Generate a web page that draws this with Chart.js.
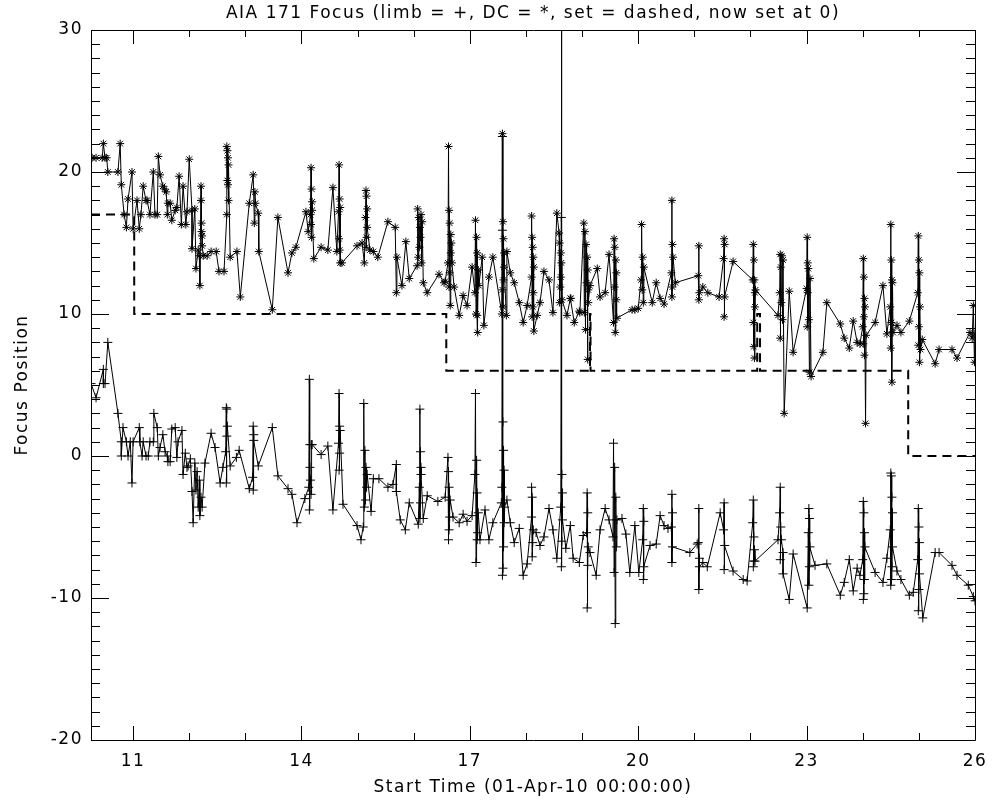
<!DOCTYPE html>
<html>
<head>
<meta charset="utf-8">
<title>AIA 171 Focus</title>
<script src="https://cdn.jsdelivr.net/npm/chart.js@4.4.1/dist/chart.umd.min.js"></script>
<style>
  html, body { margin: 0; padding: 0; background: #fff; }
  #wrap { width: 1000px; height: 800px; }
</style>
</head>
<body>
<div id="wrap"><canvas id="chart" width="1000" height="800"></canvas></div>
<script>
// tick positions
const X_TICKS = [11, 14, 17, 20, 23, 26];
const X_MINOR = [11, 12, 13, 14, 15, 16, 17, 18, 19, 20, 21, 22, 23, 24, 25, 26];
const Y_TICKS = [-20, -10, 0, 10, 20, 30];

// DC focus (*) : [day, position]
const dcPoints = [
  [10.27,21],[10.34,21],[10.45,21],[10.47,22],[10.50,21],[10.53,21],[10.55,20],[10.73,20],[10.77,22],[10.79,19.1],
  [10.84,17],[10.88,16.1],[10.91,18.1],[10.98,20],[11.00,16],[11.07,18],[11.11,16],[11.14,17],[11.18,19],[11.23,18],
  [11.25,18],[11.30,17],[11.36,20],[11.39,17],[11.43,17],[11.45,21.1],[11.48,19.8],[11.53,19],[11.56,18.8],[11.59,18.6],
  [11.61,17],[11.62,17.8],[11.66,17.8],[11.69,16.6],[11.75,17.3],[11.78,17.5],[11.82,19.7],[11.86,16.3],[11.89,19],[11.94,16.3],
  [11.96,17.2],[12.00,20.9],[12.05,17.3],[12.05,14.6],[12.10,17.4],[12.12,13.2],[12.16,14.5],[12.18,14.1],[12.19,12.0],[12.21,19.0],
  [12.21,18.0],[12.22,16.4],[12.22,15.8],[12.23,15.5],[12.23,14.8],[12.25,14.1],[12.32,14.1],[12.39,14.4],[12.48,14.4],[12.53,13.0],
  [12.62,13.0],[12.67,17.0],[12.67,21.8],[12.68,19.4],[12.68,21.5],[12.69,19.1],[12.69,21.0],[12.70,18.0],[12.70,20.5],[12.73,14.0],
  [12.85,14.4],[12.91,11.2],[13.07,17.8],[13.14,19.8],[13.16,16.4],[13.17,18.6],[13.18,17.8],[13.23,17.1],[13.24,14.4],[13.48,10.3],
  [13.58,16.8],[13.76,12.9],[13.83,14.3],[13.90,14.7],[14.08,17.2],[14.12,15.8],
  [14.16,17.0],[14.17,20.3],[14.17,16.3],[14.18,18.8],[14.18,15.4],[14.19,17.9],[14.19,17.3],
  [14.22,13.9],[14.35,14.7],[14.47,14.5],[14.56,18.9],[14.63,14.4],
  [14.66,17.2],[14.67,20.5],[14.67,15.3],[14.68,18.1],[14.68,14.5],[14.69,17.5],[14.69,13.6],
  [14.72,13.6],[14.99,14.8],[15.08,15.0],[15.12,13.6],
  [15.14,16.8],[15.15,18.7],[15.15,14.7],[15.16,18.3],[15.16,15.4],[15.17,17.4],[15.17,16.1],
  [15.22,14.5],[15.28,14.4],[15.36,14.0],[15.54,16.5],[15.67,16.1],[15.69,11.5],[15.70,14.0],[15.79,12.0],[15.86,15.1],[15.92,12.5],
  [16.06,13.4],[16.07,17.4],[16.08,14.0],[16.09,16.8],[16.10,14.7],[16.11,16.1],[16.12,15.4],[16.13,17.0],[16.14,13.6],[16.15,16.5],
  [16.17,12.2],[16.24,11.5],[16.45,12.8],[16.54,12.2],[16.56,12.3],
  [16.61,13.6],[16.62,21.8],[16.63,11.9],[16.63,17.3],[16.64,12.9],[16.64,16.4],[16.65,10.6],[16.66,15.6],[16.66,14.3],[16.67,15.0],[16.68,13.6],
  [16.72,11.9],[16.81,9.9],[16.88,11.3],[16.95,10.6],[17.04,13.3],
  [17.09,11.5],[17.10,16.6],[17.11,10.0],[17.12,15.4],[17.13,9.9],[17.13,14.3],[17.14,8.7],[17.15,13.1],[17.16,12.0],
  [17.22,14.0],[17.25,9.2],[17.34,12.6],[17.41,14.0],
  [17.57,10.0],[17.58,22.7],[17.58,11.7],[17.59,16.5],[17.59,10.5],[17.60,15.3],[17.60,12.4],[17.61,14.3],[17.61,13.3],
  [17.65,9.9],[17.66,14.4],[17.72,12.9],[17.79,12.2],[17.88,10.8],[17.95,9.4],[18.02,10.6],
  [18.10,12.6],[18.10,16.9],[18.11,9.8],[18.11,15.4],[18.12,10.5],[18.12,14.7],[18.13,11.5],[18.13,14.0],[18.14,13.3],[18.14,8.8],
  [18.20,9.9],[18.25,10.8],[18.32,13.0],[18.41,12.4],[18.48,10.1],[18.55,17.1],
  [18.59,15.7],[18.60,10.8],[18.60,15.0],[18.61,11.9],[18.62,14.3],[18.62,12.6],[18.63,13.6],[18.64,11.0],
  [18.73,9.9],[18.79,11.1],[18.80,11.1],[18.86,9.4],[18.95,10.2],[18.96,10.1],
  [19.03,16.4],[19.04,10.1],[19.05,15.8],[19.06,8.9],[19.07,14.9],[19.08,12.2],[19.09,14.0],[19.10,6.8],[19.10,13.1],[19.11,11.7],[19.11,10.8],
  [19.14,12.0],[19.27,13.2],[19.32,11.2],[19.41,11.5],[19.48,14.2],
  [19.56,9.4],[19.57,15.3],[19.58,11.9],[19.58,14.7],[19.59,8.7],[19.60,13.8],[19.61,11.0],[19.61,12.9],[19.62,9.7],
  [19.89,10.3],[19.94,10.3],[20.00,10.4],
  [20.05,12.4],[20.06,16.3],[20.07,11.7],[20.08,14.0],[20.09,10.8],[20.10,13.3],
  [20.25,10.8],[20.32,12.2],[20.39,11.1],[20.46,10.7],
  [20.59,12.9],[20.60,18.0],[20.60,11.2],[20.61,14.9],[20.61,11.9],[20.62,14.0],
  [20.66,12.2],
  [21.07,12.7],[21.08,14.8],[21.08,11.0],[21.09,11.5],
  [21.15,11.9],[21.24,11.5],[21.44,11.2],
  [21.52,13.9],[21.53,15.3],[21.53,9.8],[21.54,14.9],[21.54,11.2],
  [21.69,13.7],
  [22.04,12.4],[22.05,14.9],[22.05,9.4],[22.06,13.8],[22.06,7.7],[22.07,12.4],[22.07,6.9],[22.08,11.5],[22.08,10.5],[22.09,11.7],
  [22.49,9.9],
  [22.52,11.5],[22.53,14.2],[22.53,8.3],[22.54,13.3],[22.55,10.8],[22.56,14.1],[22.57,9.6],[22.58,13.8],[22.60,3.0],
  [22.69,11.6],[22.76,7.3],
  [23.00,11.8],[23.01,15.4],[23.01,9.1],[23.02,13.6],[23.02,11.5],[23.03,13.2],[23.04,9.6],[23.05,5.9],[23.06,12.5],[23.08,5.6],
  [23.29,7.3],[23.36,10.8],[23.60,9.3],[23.67,8.3],[23.76,7.6],[23.83,9.5],[23.90,8.0],[23.95,7.9],
  [24.00,9.1],[24.01,13.9],[24.01,7.9],[24.02,12.6],[24.02,9.8],[24.03,11.1],[24.03,7.1],[24.04,10.5],[24.05,2.3],[24.06,8.5],
  [24.22,9.4],[24.36,12.0],[24.43,8.6],
  [24.49,10.5],[24.50,16.3],[24.50,7.6],[24.51,13.8],[24.51,9.4],[24.52,12.4],[24.52,5.2],[24.53,12.2],[24.54,8.7],
  [24.61,9.2],[24.68,8.7],[24.83,9.5],
  [24.98,11.5],[24.99,15.5],[24.99,7.8],[25.00,13.8],[25.00,9.1],[25.01,12.9],[25.01,6.6],[25.02,10.5],[25.03,7.5],
  [25.06,8.2],[25.29,6.5],[25.36,7.5],[25.59,7.5],[25.68,6.9],[25.91,8.7],[25.95,8.3],[25.97,10.6],[25.99,6.6],[26.00,8.6]
];

// limb focus (+) : [day, position]
const limbPoints = [
  [10.25,5.1],[10.34,4.1],[10.47,6.1],[10.47,5.1],[10.50,5.1],[10.55,8.0],[10.73,3.0],[10.79,1.0],[10.79,0],[10.82,2.0],
  [10.88,1.0],[10.91,0],[10.95,1.0],[10.98,-1.9],[11.00,1.0],[11.11,2.0],[11.12,1.0],[11.16,0],[11.18,1.0],[11.23,0],
  [11.27,0],[11.30,1.0],[11.36,1.0],[11.37,3.0],[11.43,2.0],[11.45,0],[11.48,0.6],[11.53,1.5],[11.57,0.3],[11.61,0],
  [11.62,-0.4],[11.66,-0.4],[11.69,1.9],[11.75,2.0],[11.78,-0.1],[11.80,1.0],[11.87,1.8],[11.89,-1.3],[11.93,0.2],[11.96,-0.8],
  [11.98,-0.7],[12.02,-0.2],[12.05,-2.5],[12.07,-4.7],
  [12.10,-0.5],[12.12,-2.4],[12.14,-1.1],[12.16,-3.6],[12.18,-1.7],[12.19,-4.2],[12.21,-2.9],[12.23,-3.6],
  [12.28,-0.5],[12.39,1.6],[12.46,0.6],[12.55,-1.9],[12.60,-0.8],
  [12.65,0.3],[12.66,3.4],[12.66,-1.9],[12.67,3.3],[12.67,1.4],[12.68,2.1],
  [12.73,-0.7],[12.84,-0.1],[12.89,0.4],[13.07,-2.3],
  [13.13,-1.5],[13.14,2.1],[13.14,-2.4],[13.15,1.5],[13.15,1.1],
  [13.23,-0.7],[13.48,2.0],[13.58,-1.4],[13.76,-2.3],[13.83,-2.7],[13.92,-4.7],[14.06,-3.0],
  [14.13,-2.2],[14.14,5.4],[14.14,-3.8],[14.15,0.8],[14.15,-0.8],[14.16,-1.7],[14.17,-2.7],[14.18,0.8],
  [14.19,0.8],[14.35,0.1],[14.47,0.7],[14.56,-3.8],
  [14.66,0.9],[14.67,4.4],[14.67,-1.0],[14.68,2.1],[14.68,0.2],[14.69,1.8],
  [14.74,-3.4],[14.99,-4.9],[15.06,-5.9],
  [15.10,-5.0],[15.11,3.7],[15.12,-3.6],[15.13,0.4],[15.14,-3.1],[15.15,-0.8],[15.16,-2.2],[15.17,-1.3],
  [15.24,-3.9],[15.28,-1.6],[15.38,-1.6],[15.54,-2.2],[15.63,-2.0],[15.69,-0.6],[15.69,-2.5],[15.76,-4.5],[15.85,-5.2],[15.92,-3.3],[16.08,-4.8],
  [16.10,-2.2],[16.11,3.3],[16.11,-4.4],[16.12,0.3],[16.12,-3.3],[16.13,-0.8],[16.13,-1.3],
  [16.17,-4.4],[16.24,-2.8],[16.43,-3.2],[16.56,-2.9],
  [16.61,-0.1],[16.62,-5.9],[16.62,-1.1],[16.63,-5.2],[16.63,-2.2],[16.64,-4.3],[16.65,-3.1],
  [16.70,-4.3],[16.81,-4.7],[16.88,-4.1],[16.95,-4.6],[17.04,-4.2],
  [17.09,-1.3],[17.10,4.4],[17.11,-7.5],[17.12,-0.3],[17.13,-5.9],[17.13,-2.6],[17.14,-5.4],[17.15,-4.0],
  [17.18,-5.9],[17.27,-3.8],[17.34,-5.9],[17.41,-4.7],[17.56,-3.3],
  [17.57,-2.2],[17.58,22.5],[17.58,15.9],[17.58,-8.4],[17.59,2.4],[17.59,-7.9],[17.60,0.4],[17.60,-6.4],[17.61,-1.0],[17.61,-4.7],[17.62,-3.6],
  [17.66,-3.1],[17.72,-4.7],[17.79,-6.1],[17.88,-5.1],[17.95,-8.4],[18.02,-7.6],
  [18.10,-4.3],[18.10,-2.2],[18.11,-7.1],[18.11,-2.9],[18.12,-6.1],[18.13,-5.2],
  [18.18,-5.4],[18.25,-6.3],[18.32,-5.7],[18.41,-3.7],[18.48,-5.2],[18.55,-7.2],
  [18.62,-3.6],[18.63,16.8],[18.63,40],[18.63,-7.8],[18.64,-1.3],[18.64,-6.0],[18.65,-2.6],[18.65,-4.5],
  [18.71,-6.5],[18.79,-4.9],[18.84,-7.2],[18.95,-7.5],[19.02,-5.6],
  [19.08,-5.4],[19.09,-2.6],[19.09,-10.7],[19.10,-4.0],[19.10,-7.7],[19.11,-6.4],
  [19.14,-6.8],[19.25,-8.4],[19.32,-5.2],[19.41,-3.7],[19.48,-4.5],
  [19.55,-5.7],[19.56,0.9],[19.57,-8.2],[19.58,-0.8],[19.59,-11.8],[19.60,-2.9],[19.61,-6.4],[19.62,-4.5],
  [19.71,-4.4],[19.78,-5.5],[19.85,-8.2],[19.94,-4.9],[20.01,-8.2],
  [20.08,-5.9],[20.09,-3.7],[20.09,-8.7],[20.10,-4.6],[20.10,-7.8],
  [20.21,-6.3],[20.32,-6.2],[20.39,-4.2],[20.46,-4.9],[20.53,-5.1],
  [20.59,-5.0],[20.60,-2.7],[20.60,-7.5],[20.61,-4.0],[20.61,-6.4],
  [20.92,-6.8],[21.05,-6.2],
  [21.07,-6.1],[21.08,-3.7],[21.08,-9.4],[21.09,-7.2],[21.09,-7.8],
  [21.15,-7.5],[21.23,-7.8],[21.46,-4.0],
  [21.52,-5.2],[21.53,-3.3],[21.53,-8.0],[21.54,-6.3],
  [21.69,-8.1],[21.87,-8.7],[21.94,-8.8],
  [22.04,-4.7],[22.05,-3.1],[22.05,-7.8],[22.06,-5.7],[22.06,-7.4],[22.07,-6.6],[22.08,-7.4],
  [22.49,-5.9],
  [22.52,-4.0],[22.53,-2.2],[22.53,-7.3],[22.54,-5.0],[22.55,-5.9],[22.58,-6.8],[22.58,-8.3],
  [22.69,-10.1],[22.76,-6.9],[23.01,-10.7],
  [23.03,-5.4],[23.04,-3.7],[23.04,-9.1],[23.05,-4.4],[23.05,-7.8],[23.06,-6.4],
  [23.15,-7.7],[23.36,-7.6],[23.60,-9.8],[23.67,-8.9],[23.76,-7.3],[23.83,-9.5],[23.90,-7.9],[23.95,-8.4],
  [24.00,-7.3],[24.01,-3.2],[24.01,-10.1],[24.02,-4.0],[24.02,-9.7],[24.03,-5.4],[24.03,-8.7],[24.04,-6.4],
  [24.22,-8.2],[24.36,-8.9],[24.43,-7.2],
  [24.49,-5.2],[24.50,-1.2],[24.50,-9.1],[24.51,-1.4],[24.51,-8.7],[24.52,-2.9],[24.52,-7.8],[24.53,-4.0],[24.53,-6.4],
  [24.61,-8.1],[24.68,-8.7],[24.83,-9.8],[24.90,-9.6],
  [24.98,-7.3],[24.99,-3.7],[24.99,-10.9],[25.00,-5.0],[25.00,-9.4],[25.01,-6.1],[25.01,-8.3],
  [25.07,-11.4],[25.29,-6.8],[25.36,-6.8],[25.59,-7.7],[25.68,-8.4],[25.88,-9.1],[25.97,-9.9],[26.00,-10.2]
];

// set focus (dashed), value held until next change
const setTimes = [10.25, 11.02, 16.58, 19.14, 19.15, 22.12, 22.17, 24.81, 26.0];
const setValues = [17, 10, 6, 10, 6, 10, 6, 0, 0];

const FONT = 'DejaVu Sans';
const SPACING = '1.5px';

// wider letter spacing, closer to the IDL vector font
const letterSpacing = {
  id: 'letterSpacing',
  beforeLayout(chart) { chart.ctx.letterSpacing = SPACING; },
  beforeDraw(chart) { chart.ctx.letterSpacing = SPACING; }
};

// IDL style box with inward ticks on all four sides
const boxTicks = {
  id: 'boxTicks',
  afterDraw(chart) {
    const { ctx, chartArea: a, scales } = chart;
    const x = scales.x, y = scales.y;
    ctx.save();
    ctx.strokeStyle = '#000';
    ctx.lineWidth = 1;
    ctx.beginPath();
    ctx.rect(Math.round(a.left) + 0.5, Math.round(a.top) + 0.5,
             Math.round(a.right - a.left), Math.round(a.bottom - a.top));
    X_MINOR.forEach(v => {
      const px = Math.round(x.getPixelForValue(v)) + 0.5;
      const len = X_TICKS.includes(v) ? 14 : 7;
      ctx.moveTo(px, a.bottom); ctx.lineTo(px, a.bottom - len);
      ctx.moveTo(px, a.top); ctx.lineTo(px, a.top + len);
    });
    for (let v = -20; v <= 30; v++) {
      const py = Math.round(y.getPixelForValue(v)) + 0.5;
      const len = Y_TICKS.includes(v) ? 18 : 9;
      ctx.moveTo(a.left, py); ctx.lineTo(a.left + len, py);
      ctx.moveTo(a.right, py); ctx.lineTo(a.right - len, py);
    }
    ctx.stroke();
    ctx.restore();
  }
};

Chart.defaults.font.family = FONT;
Chart.defaults.color = '#000';

new Chart(document.getElementById('chart'), {
  type: 'line',
  data: {
    datasets: [
      {
        label: 'DC',
        data: dcPoints.map(p => ({ x: p[0], y: p[1] })),
        borderColor: '#000',
        borderWidth: 1,
        pointStyle: 'star',
        pointRadius: 4,
        pointBorderColor: '#000',
        pointBorderWidth: 1,
        tension: 0
      },
      {
        label: 'limb',
        data: limbPoints.map(p => ({ x: p[0], y: p[1] })),
        borderColor: '#000',
        borderWidth: 1,
        pointStyle: 'cross',
        pointRadius: 4.5,
        pointBorderColor: '#000',
        pointBorderWidth: 1,
        tension: 0
      },
      {
        label: 'set',
        data: setTimes.map((t, i) => ({ x: t, y: setValues[i] })),
        borderColor: '#000',
        borderWidth: 2,
        borderDash: [9, 6],
        stepped: true,
        pointRadius: 0
      }
    ]
  },
  options: {
    responsive: false,
    animation: false,
    devicePixelRatio: 1,
    layout: { padding: { left: 0, right: 25, top: 0, bottom: 0 } },
    plugins: {
      legend: { display: false },
      tooltip: { enabled: false },
      title: { display: false }
    },
    scales: {
      // top axis only carries the plot title, centred over the plot box
      xTop: {
        type: 'linear',
        position: 'top',
        min: 10.25,
        max: 26,
        grid: { display: false, drawTicks: false },
        border: { display: false },
        ticks: { display: false },
        afterFit(scale) { scale.height = 30; },
        title: {
          display: true,
          text: 'AIA 171 Focus (limb = +, DC = *, set = dashed, now set at 0)',
          font: { size: 17 },
          padding: { top: 3, bottom: 0 }
        }
      },
      x: {
        type: 'linear',
        min: 10.25,
        max: 26,
        grid: { display: false, drawTicks: false },
        border: { display: false },
        afterBuildTicks(scale) { scale.ticks = X_TICKS.map(v => ({ value: v })); },
        afterFit(scale) { scale.height = 60; },
        ticks: { font: { size: 17 }, padding: 11, maxRotation: 0, autoSkip: false },
        title: {
          display: true,
          text: 'Start Time (01-Apr-10 00:00:00)',
          font: { size: 17 },
          padding: { top: 0, bottom: 2 }
        }
      },
      y: {
        type: 'linear',
        min: -20,
        max: 30,
        grid: { display: false, drawTicks: false },
        border: { display: false },
        afterBuildTicks(scale) { scale.ticks = Y_TICKS.map(v => ({ value: v })); },
        afterFit(scale) { scale.width = 91; },
        ticks: { font: { size: 17 }, padding: 8 },
        title: {
          display: true,
          text: 'Focus Position',
          font: { size: 17 },
          padding: { top: 12, bottom: 0 }
        }
      }
    }
  },
  plugins: [letterSpacing, boxTicks]
});
</script>
</body>
</html>
